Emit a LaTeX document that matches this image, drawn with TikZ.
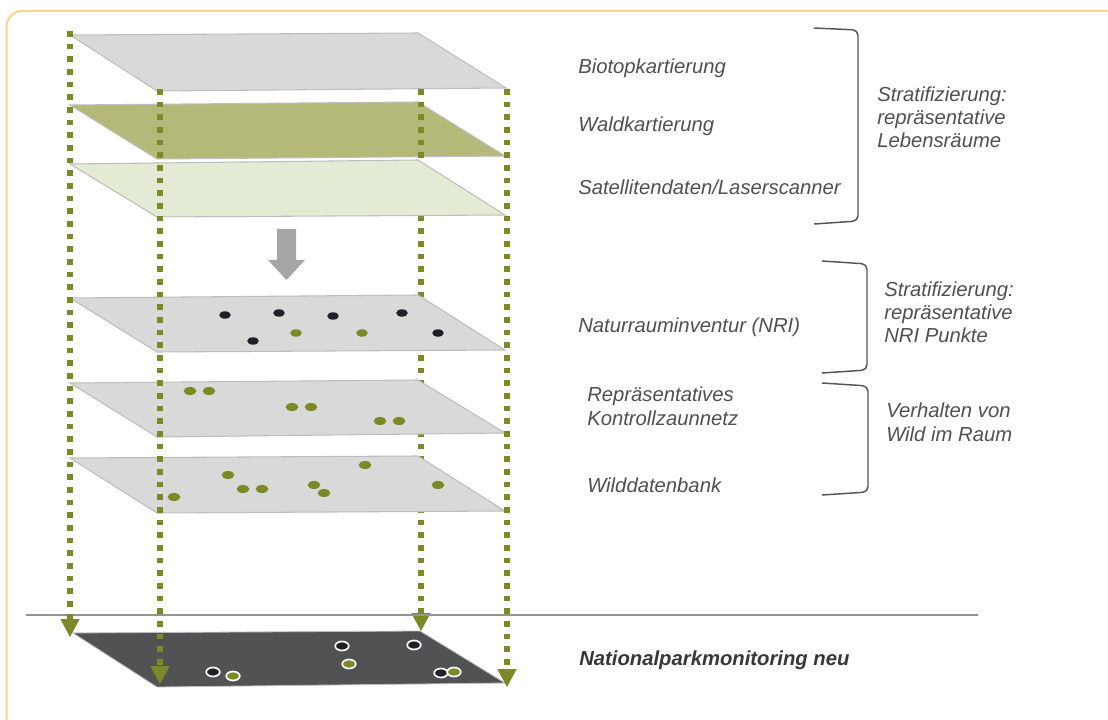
\documentclass[tikz,border=0pt]{standalone}
\usepackage{fontspec}
\setmainfont{Liberation Sans}
\newfontfamily\lblfont{Liberation Sans}
\usetikzlibrary{arrows.meta}
\definecolor{olivec}{RGB}{124,137,36}
\definecolor{framec}{RGB}{251,211,138}
\definecolor{planegray}{RGB}{217,217,217}
\definecolor{planeedge}{RGB}{190,190,190}
\definecolor{planeolive}{RGB}{180,185,122}
\definecolor{planelight}{RGB}{227,235,213}
\definecolor{planedark}{RGB}{80,82,83}
\definecolor{dotblack}{RGB}{30,34,40}
\definecolor{txtgray}{RGB}{80,80,80}
\definecolor{txtdark}{RGB}{55,55,55}
\definecolor{brackc}{RGB}{85,85,85}
\begin{document}
\begin{tikzpicture}[x=0.75pt,y=-0.75pt,
  plane/.style={draw=planeedge, line width=0.8pt},
  dotline/.style={draw=olivec, line width=4.4pt, dash pattern=on 4.2pt off 5.3pt,
     -{Triangle[width=14.5pt,length=13.5pt,line width=0pt]}},
  bdot/.style={fill=dotblack},
  odot/.style={fill=olivec},
  wdot/.style={draw=white, line width=1.3pt},
  lbl/.style={inner sep=0pt, anchor=base west, text=txtgray, font=\lblfont\itshape\fontsize{15.2}{18}\selectfont},
  lblbold/.style={inner sep=0pt, anchor=base west, text=txtdark, font=\lblfont\bfseries\itshape\fontsize{15.2}{18}\selectfont},
  bracket/.style={draw=brackc, line width=1.1pt, rounded corners=4}
]
\useasboundingbox (0,0) rectangle (1108,720);
\fill[white] (0,0) rectangle (1108,720);
% frame
\draw[framec, line width=1.5pt, rounded corners=12] (6.5,725) -- (6.5,11) -- (1115,11);

% coordinates of connectors
\coordinate (l1s) at (70,31);
\coordinate (l1e) at (70,637);
\coordinate (l2s) at (160,89);
\coordinate (l2e) at (160,684);
\coordinate (l3s) at (421,89);
\coordinate (l3e) at (421,631);
\coordinate (l4s) at (507,89);
\coordinate (l4e) at (507,687);

% planes 1 and 2
\path[plane, fill=planegray] (70,35) -- (418,33) -- (506,88) -- (157,91) -- cycle;
\path[plane, fill=planeolive] (70,105) -- (418,102) -- (505,156) -- (157,159) -- cycle;
% line 3 (behind lower planes)
\draw[dotline] (l3s) -- (l3e);
% plane 3
\path[plane, fill=planelight] (70,164) -- (418,160) -- (505,215) -- (157,217) -- cycle;
% gray arrow
\fill[gray!70] (277,229) -- (296,229) -- (296,260) -- (305,260) -- (286.5,280) -- (268,260) -- (277,260) -- cycle;
% plane 4 NRI
\path[plane, fill=planegray] (70,298) -- (418,295) -- (505,350) -- (157,352) -- cycle;
\fill[bdot] (225,315) ellipse [x radius=5.8, y radius=3.7];
\fill[bdot] (279,313) ellipse [x radius=5.8, y radius=3.7];
\fill[bdot] (333,316) ellipse [x radius=5.8, y radius=3.7];
\fill[bdot] (402,313) ellipse [x radius=5.8, y radius=3.7];
\fill[bdot] (253,341) ellipse [x radius=5.8, y radius=3.7];
\fill[bdot] (438,333) ellipse [x radius=5.8, y radius=3.7];
\fill[odot] (296,333) ellipse [x radius=5.8, y radius=3.7];
\fill[odot] (362,333) ellipse [x radius=5.8, y radius=3.7];
% plane 5
\path[plane, fill=planegray] (70,383) -- (418,380) -- (505,433) -- (157,437) -- cycle;
\fill[odot] (190,391) ellipse [x radius=6.4, y radius=4];
\fill[odot] (209,391) ellipse [x radius=6.4, y radius=4];
\fill[odot] (292,407) ellipse [x radius=6.4, y radius=4];
\fill[odot] (311,407) ellipse [x radius=6.4, y radius=4];
\fill[odot] (380,421) ellipse [x radius=6.4, y radius=4];
\fill[odot] (399,421) ellipse [x radius=6.4, y radius=4];
% plane 6
\path[plane, fill=planegray] (70,458) -- (418,456) -- (505,511) -- (157,513) -- cycle;
\fill[odot] (228,475) ellipse [x radius=6.4, y radius=4];
\fill[odot] (243,489) ellipse [x radius=6.4, y radius=4];
\fill[odot] (262,489) ellipse [x radius=6.4, y radius=4];
\fill[odot] (314,485) ellipse [x radius=6.4, y radius=4];
\fill[odot] (324,493) ellipse [x radius=6.4, y radius=4];
\fill[odot] (365,465) ellipse [x radius=6.4, y radius=4];
\fill[odot] (438,485) ellipse [x radius=6.4, y radius=4];
\fill[odot] (174,497) ellipse [x radius=6.4, y radius=4];
% separator line
\draw[gray!85, line width=1.5pt] (26,615) -- (978,615);
% bottom plane
\path[draw=planeedge, line width=0.6pt, fill=planedark] (73,633) -- (420,631) -- (505,683) -- (157,687) -- cycle;
\filldraw[wdot, fill=dotblack] (342,646) ellipse [x radius=6.8, y radius=4.5];
\filldraw[wdot, fill=dotblack] (414,645) ellipse [x radius=6.8, y radius=4.5];
\filldraw[wdot, fill=dotblack] (213,672) ellipse [x radius=6.8, y radius=4.5];
\filldraw[wdot, fill=dotblack] (441,673) ellipse [x radius=6.8, y radius=4.5];
\filldraw[wdot, fill=olivec] (349,664) ellipse [x radius=6.8, y radius=4.5];
\filldraw[wdot, fill=olivec] (233,676) ellipse [x radius=6.8, y radius=4.5];
\filldraw[wdot, fill=olivec] (454,672) ellipse [x radius=6.8, y radius=4.5];
% dotted connectors
\draw[dotline] (l1s) -- (l1e);
\draw[dotline] (l2s) -- (l2e);
\draw[dotline] (l4s) -- (l4e);

% labels
\node[lbl] (t1) at (578,74) {Biotopkartierung};
\node[lbl] (t2) at (578,132) {Waldkartierung};
\node[lbl] (t3) at (578,195) {Satellitendaten/Laserscanner};
\node[lbl] (s1a) at (877,102) {Stratifizierung:};
\node[lbl] (s1b) at (877,125) {repräsentative};
\node[lbl] (s1c) at (877,148) {Lebensräume};
\node[lbl] (t4) at (578,333) {Naturrauminventur (NRI)};
\node[lbl] (s2a) at (884,297) {Stratifizierung:};
\node[lbl] (s2b) at (884,320) {repräsentative};
\node[lbl] (s2c) at (884,343) {NRI Punkte};
\node[lbl] (t5a) at (587,402) {Repräsentatives};
\node[lbl] (t5b) at (587,426) {Kontrollzaunnetz};
\node[lbl] (s3a) at (886,418) {Verhalten von};
\node[lbl] (s3b) at (886,442) {Wild im Raum};
\node[lbl] (t6) at (587,493) {Wilddatenbank};
\node[lblbold] (t7) at (579,665) {Nationalparkmonitoring neu};

% brackets
\draw[bracket] (814,28) -- (858,30) -- (858,221) -- (814,224);
\draw[bracket] (822,261) -- (867,264) -- (867,370) -- (822,373);
\draw[bracket] (822,383) -- (868,386) -- (868,492) -- (822,495);
\end{tikzpicture}
\end{document}
